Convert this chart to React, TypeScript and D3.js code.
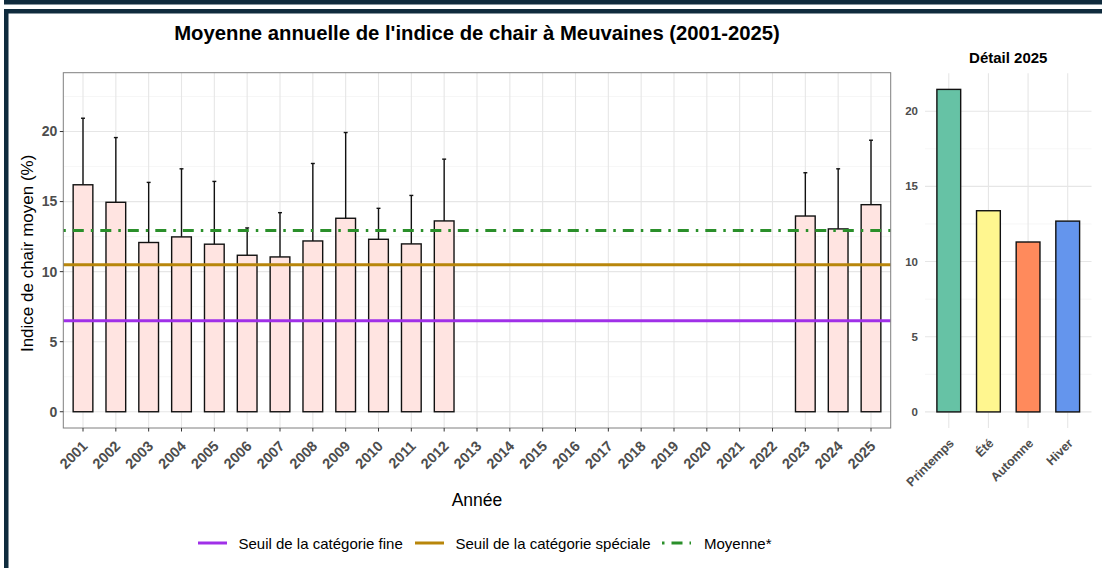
import React from "react";
import * as d3 from "d3";

// ---------- DATA ----------
const years: string[] = [
  "2001","2002","2003","2004","2005","2006","2007","2008","2009","2010","2011","2012","2013",
  "2014","2015","2016","2017","2018","2019","2020","2021","2022","2023","2024","2025",
];
const dataYears: string[] = ["2001","2002","2003","2004","2005","2006","2007","2008","2009","2010","2011","2012","2023","2024","2025"];
const means: number[] = [16.2, 14.95, 12.08, 12.48, 11.96, 11.17, 11.05, 12.19, 13.81, 12.31, 11.98, 13.62, 13.97, 13.05, 14.78];
const upper: number[] = [20.95, 19.57, 16.37, 17.34, 16.44, 13.12, 14.21, 17.72, 19.93, 14.52, 15.44, 18.03, 17.06, 17.34, 19.38];

const seuilFine = 6.5;
const seuilSpeciale = 10.5;
const moyenne = 12.93;

const yTicks: number[] = [0, 5, 10, 15, 20];
const yMinor: number[] = [2.5, 7.5, 12.5, 17.5, 22.5];

const seasons: string[] = ["Printemps", "Été", "Automne", "Hiver"];
const seasonValues: number[] = [21.45, 13.38, 11.3, 12.69];
const seasonColors: string[] = ["#66c2a5", "#fff68f", "#ff8a5c", "#6495ed"];
const rTicks: number[] = [0, 5, 10, 15, 20];
const rMinor: number[] = [2.5, 7.5, 12.5, 17.5];

const legendLabels: string[] = ["Seuil de la catégorie fine", "Seuil de la catégorie spéciale", "Moyenne*"];

// ---------- STYLE ----------
const FONT = "'Liberation Sans', Arial, Helvetica, sans-serif";
const PURPLE = "#a030e8";
const GOLD = "#b8860b";
const GREEN = "#2a8f2a";
const FRAME = "#0f2b3d";
const DOTDASH = "2.5,7,11,7";

export default function App() {
  const W = 1102, H = 568;
  const pL = 63.3, pR = 890.7, pT = 72.7, pB = 428;
  const x = d3.scalePoint<string>().domain(years).range([pL, pR]).padding(0.6);
  const step = x.step();
  const y = d3.scaleLinear().domain([-1.16, 24.2]).range([pB, pT]);
  const bw = step * 0.6;
  const cap = step * 0.12;

  const rL = 925, rR = 1091.5, rT = 73.3, rB = 428;
  const xr = d3.scalePoint<string>().domain(seasons).range([rL, rR]).padding(0.6);
  const yr = d3.scaleLinear().domain([-1.07, 22.52]).range([rB, rT]);
  const rbw = xr.step() * 0.6;

  const tickCol = "#4d4d4d";

  return (
    <div style={{ position: "fixed", left: 0, top: 0 }}>
      <svg width={W} height={H} style={{ display: "block", fontFamily: FONT }}>
        <rect x={0} y={0} width={W} height={H} fill="#ffffff" />
        {/* frame */}
        <rect x={4} y={0} width={W - 4} height={4.5} fill={FRAME} />
        <rect x={4} y={9} width={W - 4} height={4.5} fill={FRAME} />
        <rect x={4} y={9} width={4.5} height={H - 9} fill={FRAME} />

        {/* title */}
        <text x={(pL + pR) / 2} y={40} textAnchor="middle" fontSize={20.3} fontWeight="bold" fill="#000">
          Moyenne annuelle de l'indice de chair à Meuvaines (2001-2025)
        </text>

        {/* main panel grid */}
        {yMinor.map((v) => (
          <line key={"mn" + v} x1={pL} x2={pR} y1={y(v)} y2={y(v)} stroke="#f2f2f2" strokeWidth={0.7} />
        ))}
        {yTicks.map((v) => (
          <line key={"mj" + v} x1={pL} x2={pR} y1={y(v)} y2={y(v)} stroke="#e6e6e6" strokeWidth={1.1} />
        ))}
        {years.map((yr0) => (
          <line key={"vx" + yr0} x1={x(yr0)!} x2={x(yr0)!} y1={pT} y2={pB} stroke="#e6e6e6" strokeWidth={1.1} />
        ))}

        {/* error bars (upper) */}
        {dataYears.map((yy, i) => {
          const cx = x(yy)!;
          return (
            <g key={"eb" + yy} stroke="#111" strokeWidth={1.4}>
              <line x1={cx} x2={cx} y1={y(means[i])} y2={y(upper[i])} />
              <line x1={cx - cap / 2} x2={cx + cap / 2} y1={y(upper[i])} y2={y(upper[i])} />
            </g>
          );
        })}
        {/* bars */}
        {dataYears.map((yy, i) => (
          <rect key={"b" + yy} x={x(yy)! - bw / 2} y={y(means[i])} width={bw} height={y(0) - y(means[i])}
            fill="#ffe4e1" stroke="#111" strokeWidth={1.4} />
        ))}

        {/* reference lines */}
        <line x1={pL} x2={pR} y1={y(seuilFine)} y2={y(seuilFine)} stroke={PURPLE} strokeWidth={3} />
        <line x1={pL} x2={pR} y1={y(seuilSpeciale)} y2={y(seuilSpeciale)} stroke={GOLD} strokeWidth={3} />
        <line x1={pL} x2={pR} y1={y(moyenne)} y2={y(moyenne)} stroke={GREEN} strokeWidth={3} strokeDasharray={DOTDASH} />

        {/* panel border */}
        <rect x={pL} y={pT} width={pR - pL} height={pB - pT} fill="none" stroke="#7f7f7f" strokeWidth={1} />

        {/* y axis */}
        {yTicks.map((v) => (
          <g key={"yt" + v}>
            <line x1={pL - 3.5} x2={pL} y1={y(v)} y2={y(v)} stroke="#333" strokeWidth={1} />
            <text x={pL - 6} y={y(v)} dy="0.35em" textAnchor="end" fontSize={14} fontWeight="bold" fill={tickCol}>{v}</text>
          </g>
        ))}
        <text transform={`translate(33,${(pT + pB) / 2 + 3}) rotate(-90)`} textAnchor="middle" fontSize={17} fill="#000">
          Indice de chair moyen (%)
        </text>

        {/* x axis */}
        {years.map((yy) => (
          <g key={"xt" + yy}>
            <line x1={x(yy)!} x2={x(yy)!} y1={pB} y2={pB + 3.5} stroke="#333" strokeWidth={1} />
            <text transform={`translate(${x(yy)! + 5.5},${447}) rotate(-45)`} textAnchor="end" fontSize={14.5}
              fontWeight="bold" fill={tickCol}>{yy}</text>
          </g>
        ))}
        <text x={(pL + pR) / 2} y={506} textAnchor="middle" fontSize={17.5} fill="#000">Année</text>

        {/* right panel */}
        <text x={(rL + rR) / 2} y={62.5} textAnchor="middle" fontSize={15} fontWeight="bold" fill="#000">Détail 2025</text>
        {rMinor.map((v) => (
          <line key={"rmn" + v} x1={rL} x2={rR} y1={yr(v)} y2={yr(v)} stroke="#f2f2f2" strokeWidth={0.7} />
        ))}
        {rTicks.map((v) => (
          <line key={"rmj" + v} x1={rL} x2={rR} y1={yr(v)} y2={yr(v)} stroke="#e6e6e6" strokeWidth={1.1} />
        ))}
        {seasons.map((s) => (
          <line key={"rv" + s} x1={xr(s)!} x2={xr(s)!} y1={rT} y2={rB} stroke="#e6e6e6" strokeWidth={1.1} />
        ))}
        {seasons.map((s, i) => (
          <rect key={"rb" + s} x={xr(s)! - rbw / 2} y={yr(seasonValues[i])} width={rbw}
            height={yr(0) - yr(seasonValues[i])} fill={seasonColors[i]} stroke="#111" strokeWidth={1.4} />
        ))}
        {rTicks.map((v) => (
          <text key={"rtl" + v} x={rL - 7} y={yr(v)} dy="0.35em" textAnchor="end" fontSize={11.5} fontWeight="bold" fill={tickCol}>{v}</text>
        ))}
        {seasons.map((s) => (
          <text key={"rxl" + s} transform={`translate(${xr(s)! + 6},${444}) rotate(-45)`} textAnchor="end" fontSize={12.5}
            fontWeight="bold" fill={tickCol}>{s}</text>
        ))}

        {/* legend */}
        <line x1={198} x2={227} y1={543} y2={543} stroke={PURPLE} strokeWidth={3} />
        <text x={238.5} y={548.5} fontSize={15} fill="#000">{legendLabels[0]}</text>
        <line x1={415} x2={444} y1={543} y2={543} stroke={GOLD} strokeWidth={3} />
        <text x={455.5} y={548.5} fontSize={15} fill="#000">{legendLabels[1]}</text>
        <line x1={662} x2={691} y1={543} y2={543} stroke={GREEN} strokeWidth={3} strokeDasharray={DOTDASH} />
        <text x={704} y={548.5} fontSize={15} fill="#000">{legendLabels[2]}</text>
      </svg>
    </div>
  );
}
